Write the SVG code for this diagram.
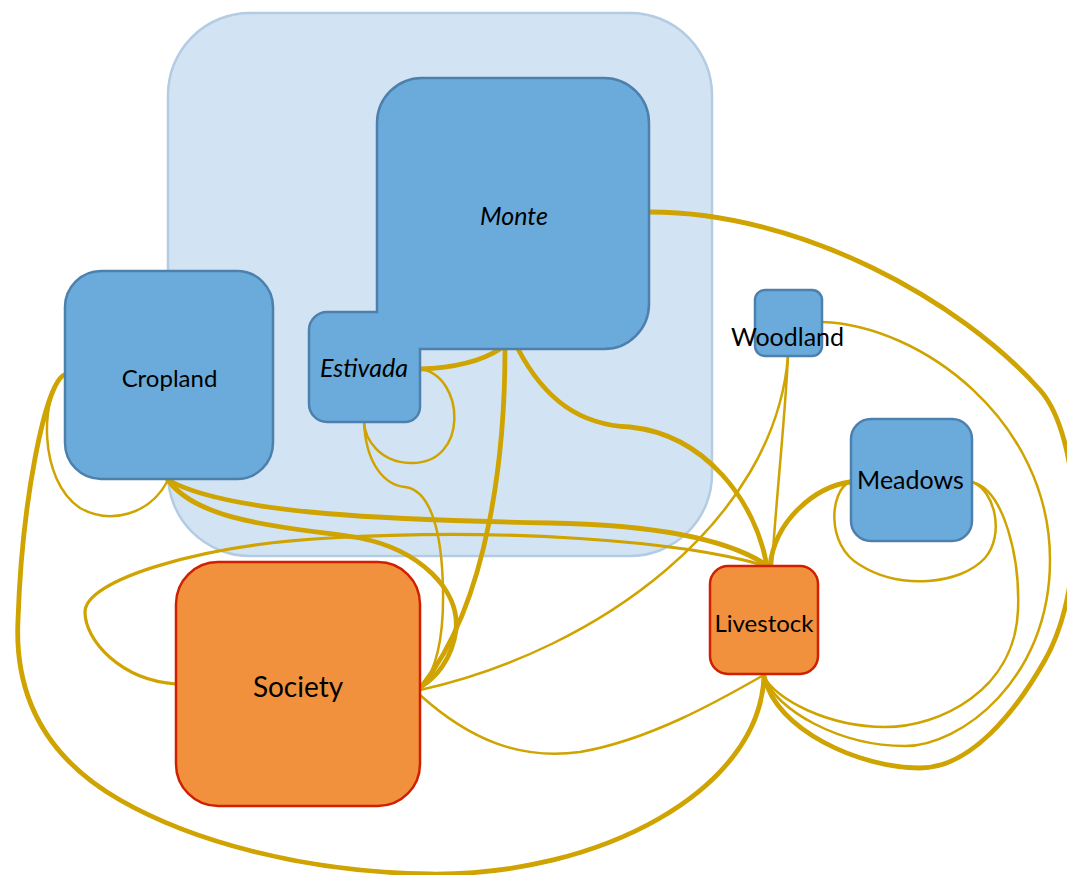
<svg xmlns="http://www.w3.org/2000/svg" width="1067" height="875" viewBox="0 0 1067 875">
  <style>
    .bg { fill: #ffffff; }
    .group { fill: #d2e4f3; stroke: #b3cce3; stroke-width: 2.5; }
    .land { fill: #6aabdb; stroke: #4e80ad; stroke-width: 2.5; }
    .actor { fill: #f2913d; stroke: #d02000; stroke-width: 2.5; }
    .flow { fill: none; stroke: #cfa300; stroke-linecap: round; }
    .w1 { stroke-width: 2.5; }
    .w2 { stroke-width: 3.2; }
    .w3 { stroke-width: 4.8; }
    .lbl { font-family: Lato, "Liberation Sans", sans-serif; fill: #000; text-anchor: middle; }
    .it { font-style: italic; }
  </style>

  <rect class="bg" x="0" y="0" width="1067" height="875"/>

  <!-- grouping area behind the pasture units -->
  <g id="pasture-area">
    <rect class="group" x="168" y="13" width="544" height="543" rx="82" ry="82"/>
  </g>

  <!-- flows between units -->
  <g id="connectors">
    <!-- Monte to Livestock, around the right side -->
    <path class="flow w3" d="M650,212 C800,212 960,300 1040,390 C1080,435 1090,580 1045,660 C1015,713 970,768 920,768 C860,768 775,730 764,676"/>
    <!-- Woodland to Livestock -->
    <path class="flow w1" d="M822,322 C920,325 1050,420 1050,560 C1050,680 960,746 905,746 C840,746 775,710 764,676"/>
    <!-- Meadows to Livestock (lower side) -->
    <path class="flow w1" d="M972,482 C1005,490 1020,560 1018,610 C1015,690 940,727 885,727 C830,727 775,700 764,676"/>
    <!-- Meadows self loop -->
    <path class="flow w1" d="M850,482 C830,490 825,545 860,565 C900,590 960,585 985,558 C1005,535 995,490 972,482"/>
    <!-- Meadows to Livestock (upper side) -->
    <path class="flow w3" d="M850,482 C815,487 775,520 770,566"/>
    <!-- Woodland to Livestock (direct) -->
    <path class="flow w1" d="M788,356 C785,420 776,500 772,566"/>
    <!-- Woodland to Society -->
    <path class="flow w1" d="M788,356 C775,520 600,650 420,690"/>
    <!-- Monte to Livestock -->
    <path class="flow w3" d="M518,349 C545,400 580,425 630,427 C705,435 755,500 767,566"/>
    <!-- Monte to Society -->
    <path class="flow w3" d="M505,349 C505,450 490,600 422,686"/>
    <!-- Estivada to Monte -->
    <path class="flow w3" d="M420,369 C450,368 480,362 500,349"/>
    <!-- Estivada self loop -->
    <path class="flow w1" d="M420,369 C465,375 470,465 410,463 C380,462 365,440 364,422"/>
    <!-- Estivada to Society -->
    <path class="flow w1" d="M364,422 C366,465 385,485 405,487 C430,490 442,530 443,590 C444,640 435,672 422,686"/>
    <!-- Cropland self loop -->
    <path class="flow w1" d="M64,375 C40,395 38,480 80,508 C110,525 150,515 168,480"/>
    <!-- Cropland to Livestock, around the bottom -->
    <path class="flow w3" d="M64,375 C45,385 22,500 18,620 C14,700 50,760 120,800 C190,840 300,872 430,874 C600,876 760,790 764,676"/>
    <!-- Cropland to Livestock -->
    <path class="flow w3" d="M168,480 C230,515 400,520 550,523 C660,525 730,540 768,566"/>
    <!-- Cropland to Society -->
    <path class="flow w3" d="M168,480 C200,525 300,528 360,538 C420,550 460,590 456,630 C452,660 435,678 422,686"/>
    <!-- Society to Livestock (upper) -->
    <path class="flow w2" d="M176,684 C120,680 85,640 85,612 C85,580 200,545 330,538 C500,528 680,540 766,566"/>
    <!-- Society to Livestock (lower) -->
    <path class="flow w1" d="M420,695 C470,740 520,760 580,752 C650,740 720,700 762,676"/>
  </g>

  <g id="monte-estivada">
    <path class="land" d="M327,312 L377,312 L377,123 A45,45 0 0 1 422,78 L604,78 A45,45 0 0 1 649,123 L649,304 A45,45 0 0 1 604,349 L420,349 L420,407 A15,15 0 0 1 405,422 L327,422 A18,18 0 0 1 309,404 L309,330 A18,18 0 0 1 327,312 Z"/>
    <text class="lbl it" x="514" y="225" font-size="25">Monte</text>
    <text class="lbl it" x="364" y="377" font-size="25">Estivada</text>
  </g>

  <g id="cropland">
    <rect class="land" x="65" y="271" width="208" height="208" rx="36" ry="36"/>
    <text class="lbl" x="169.5" y="387" font-size="24">Cropland</text>
  </g>

  <g id="woodland">
    <rect class="land" x="755" y="290" width="67" height="66" rx="10" ry="10"/>
    <text class="lbl" x="787.5" y="346" font-size="25">Woodland</text>
  </g>

  <g id="meadows">
    <rect class="land" x="851" y="419" width="121" height="122" rx="20" ry="20"/>
    <text class="lbl" x="910.5" y="489" font-size="25">Meadows</text>
  </g>

  <g id="livestock">
    <rect class="actor" x="710" y="566" width="108" height="108" rx="18" ry="18"/>
    <text class="lbl" x="764" y="632" font-size="24">Livestock</text>
  </g>

  <g id="society">
    <rect class="actor" x="176" y="562" width="244" height="244" rx="42" ry="42"/>
    <text class="lbl" x="298" y="697" font-size="28">Society</text>
  </g>
</svg>
